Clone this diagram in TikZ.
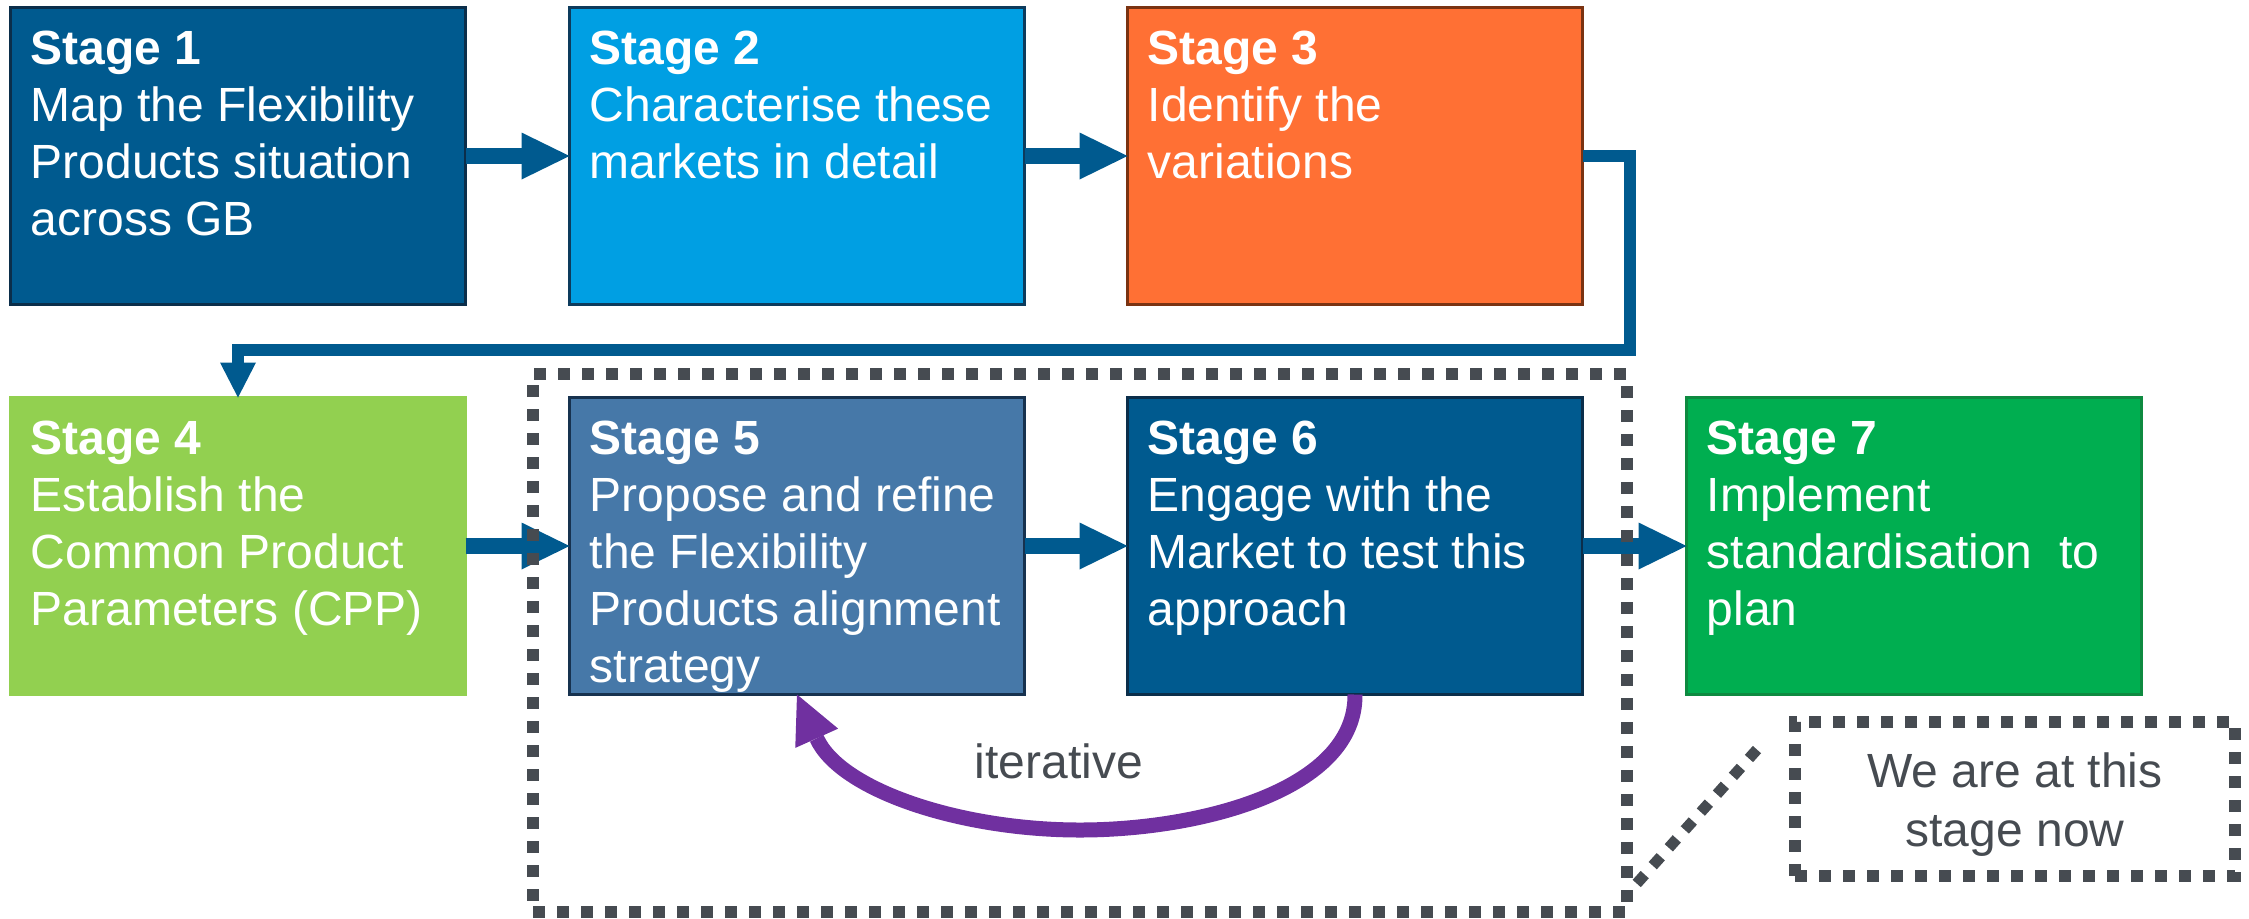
\documentclass[tikz,border=0pt]{standalone}
\usepackage{fontspec}
\setmainfont{Liberation Sans}
\usetikzlibrary{arrows.meta}

% palette
\definecolor{deepblue}{HTML}{005A8F}
\definecolor{deepblueedge}{HTML}{0B2E4A}
\definecolor{skyblue}{HTML}{009FE3}
\definecolor{skyblueedge}{HTML}{0D3B5C}
\definecolor{flameorange}{HTML}{FF7034}
\definecolor{flameedge}{HTML}{7A3312}
\definecolor{limegreen}{HTML}{92D050}
\definecolor{steelblue}{HTML}{4678A8}
\definecolor{steeledge}{HTML}{17324F}
\definecolor{leafgreen}{HTML}{00AE50}
\definecolor{leafedge}{HTML}{0E8A40}
\definecolor{loopviolet}{HTML}{7030A0}
\definecolor{slategray}{HTML}{464B51}

\newcommand\stagefont{\fontsize{24pt}{28.5pt}\selectfont}
\newcommand\stagelines[2]{\parbox[t]{220pt}{\raggedright\textbf{#1}\\#2}}

\begin{document}
\begin{tikzpicture}[x=0.5pt, y=-0.5pt,
  stagebox/.style={draw, line width=1.25pt, minimum width=227.5pt,
    minimum height=148.5pt, inner sep=0pt, outer sep=0pt},
  stagetext/.style={anchor=base west, inner sep=0pt, text=white, font=\stagefont},
  blockarrow/.style={draw=deepblue, line width=8pt,
    -{Triangle[length=24pt, width=23.5pt, line width=0pt]}},
  elbowarrow/.style={draw=deepblue, line width=6.25pt,
    -{Triangle[length=17.5pt, width=18pt, line width=0pt]}},
  loopback/.style={draw=loopviolet, line width=7.5pt,
    -{Triangle[length=24pt, width=23.5pt, line width=0pt]}},
  dotframe/.style={draw=slategray, line width=6pt, dash pattern=on 6pt off 6pt,
    inner sep=0pt, outer sep=0pt},
  graytext/.style={inner sep=0pt, text=slategray, font=\stagefont}
]
\useasboundingbox (0,0) rectangle (2249,918);

% stage boxes
\node[stagebox, fill=deepblue, draw=deepblueedge] (b1) at (238,156) {};
\node[stagebox, fill=skyblue, draw=skyblueedge] (b2) at (797,156) {};
\node[stagebox, fill=flameorange, draw=flameedge] (b3) at (1355,156) {};
\node[stagebox, fill=limegreen, draw=limegreen] (b4) at (238,546) {};
\node[stagebox, fill=steelblue, draw=steeledge] (b5) at (797,546) {};
\node[stagebox, fill=deepblue, draw=deepblueedge] (b6) at (1355,546) {};
\node[stagebox, fill=leafgreen, draw=leafedge] (b7) at (1914,546) {};

% stage texts
\node[stagetext] (t1) at ([shift={(20,57)}]b1.north west)
  {\stagelines{Stage 1}{Map the Flexibility\\Products situation\\across GB}};
\node[stagetext] (t2) at ([shift={(20,57)}]b2.north west)
  {\stagelines{Stage 2}{Characterise these\\markets in detail}};
\node[stagetext] (t3) at ([shift={(20,57)}]b3.north west)
  {\stagelines{Stage 3}{Identify the\\variations}};
\node[stagetext] (t4) at ([shift={(20,57)}]b4.north west)
  {\stagelines{Stage 4}{Establish the\\Common Product\\Parameters (CPP)}};
\node[stagetext] (t5) at ([shift={(20,57)}]b5.north west)
  {\stagelines{Stage 5}{Propose and refine\\the Flexibility\\Products alignment\\strategy}};
\node[stagetext] (t6) at ([shift={(20,57)}]b6.north west)
  {\stagelines{Stage 6}{Engage with the\\Market to test this\\approach}};
\node[stagetext] (t7) at ([shift={(20,57)}]b7.north west)
  {\stagelines{Stage 7}{Implement\\standardisation\ \ to\\plan}};

% flow arrows
\draw[blockarrow] (b1.east) -- (b2.west);
\draw[blockarrow] (b2.east) -- (b3.west);
\draw[blockarrow] (b4.east) -- (b5.west);
\draw[blockarrow] (b5.east) -- (b6.west);
\draw[blockarrow] (b6.east) -- (b7.west);

% return line from stage 3 down to stage 4
\coordinate (bend) at (1630,350);
\draw[elbowarrow] (b3.east) -| (bend) -| (b4.north);

% iteration loop between stages 6 and 5
\draw[loopback] (b6.south) .. controls (1356,790) and (1200,830) .. (1080,830)
  .. controls (960,830) and (840,790) .. (b5.south);
\node[graytext, anchor=base] (iter) at (1059,778) {iterative};

% current focus frame and its callout
\node[dotframe, minimum width=546.75pt, minimum height=269pt] (focus) at (1079.75,643) {};
\node[dotframe, minimum width=220pt, minimum height=77pt] (note) at (2015,799) {};
\node[graytext, anchor=base] (notetext) at (2015,787)
  {\parbox[t]{220pt}{\centering\baselineskip=29.5pt We are at this\\stage now}};
\coordinate (callfrom) at (1636.7,883.5);
\coordinate (callto) at (1757,749.5);
\draw[draw=slategray, line width=5.5pt, dash pattern=on 6pt off 6pt] (callfrom) -- (callto);
\end{tikzpicture}
\end{document}
